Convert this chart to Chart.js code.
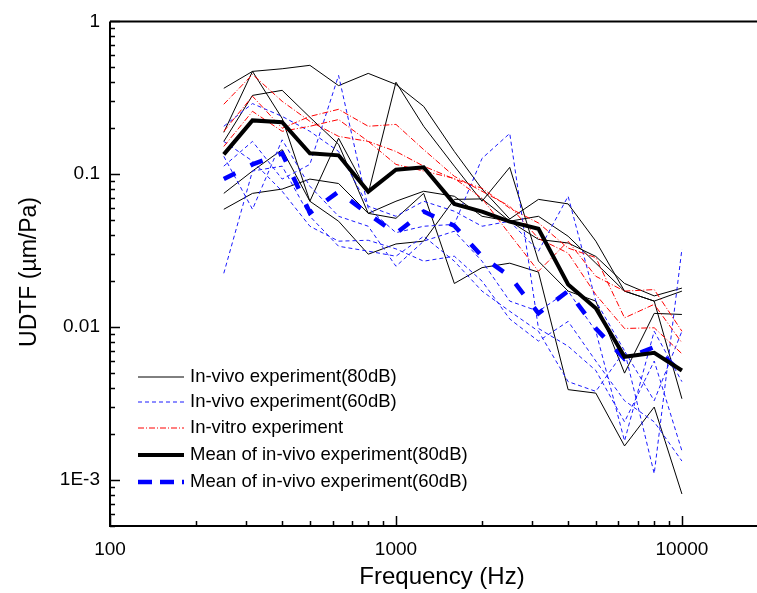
<!DOCTYPE html>
<html>
<head>
<meta charset="utf-8">
<script src="https://cdn.jsdelivr.net/npm/chart.js@4.4.1/dist/chart.umd.min.js"></script>
<style>
html, body { margin: 0; padding: 0; background: #fff; overflow: hidden; }
#wrap { width: 757px; height: 593px; overflow: hidden; }
</style>
</head>
<body>
<div id="wrap"><canvas id="c" width="790" height="593"></canvas></div>
<script>
// third-octave centre frequencies (Hz)
var freqs = [250, 315, 400, 500, 630, 800, 1000, 1250, 1600, 2000, 2500, 3150, 4000, 5000, 6300, 8000, 10000];

// in-vivo 80 dB, individual ears
var vivo80_1 = [0.365, 0.471, 0.49, 0.516, 0.38, 0.457, 0.387, 0.278, 0.141, 0.08, 0.051, 0.0685, 0.064, 0.0365, 0.0172, 0.0148, 0.0034];
var vivo80_2 = [0.188, 0.471, 0.232, 0.0666, 0.0493, 0.030, 0.035, 0.0365, 0.0685, 0.069, 0.0493, 0.0375, 0.0355, 0.029, 0.0193, 0.016, 0.018];
var vivo80_3 = [0.164, 0.328, 0.354, 0.236, 0.157, 0.0555, 0.0515, 0.075, 0.0193, 0.0245, 0.0262, 0.0229, 0.0039, 0.0037, 0.00167, 0.0030, 0.00081];
var vivo80_4 = [0.075, 0.105, 0.145, 0.0666, 0.172, 0.075, 0.40, 0.206, 0.113, 0.0666, 0.111, 0.027, 0.0172, 0.0148, 0.005, 0.0123, 0.0121];
var vivo80_5 = [0.059, 0.075, 0.080, 0.093, 0.087, 0.0555, 0.0666, 0.0774, 0.0718, 0.0531, 0.0493, 0.0531, 0.0393, 0.0262, 0.0172, 0.0148, 0.0172];

// in-vivo 60 dB, individual ears
var vivo60_1 = [0.113, 0.164, 0.093, 0.116, 0.443, 0.06, 0.0415, 0.0457, 0.047, 0.127, 0.185, 0.0098, 0.0075, 0.0052, 0.0024, 0.006, 0.00155];
var vivo60_2 = [0.206, 0.29, 0.239, 0.191, 0.141, 0.0618, 0.0531, 0.0666, 0.0573, 0.0457, 0.0493, 0.0314, 0.0718, 0.0148, 0.007, 0.0011, 0.0324];
var vivo60_3 = [0.131, 0.059, 0.168, 0.0835, 0.0531, 0.0457, 0.025, 0.0365, 0.0424, 0.027, 0.0148, 0.0127, 0.0172, 0.0094, 0.0018, 0.0094, 0.0044];
var vivo60_4 = [0.0225, 0.105, 0.113, 0.0531, 0.0338, 0.0314, 0.0291, 0.0393, 0.027, 0.0172, 0.0127, 0.0094, 0.0044, 0.0038, 0.007, 0.0033, 0.0094];
var vivo60_5 = [0.164, 0.122, 0.0774, 0.0457, 0.0365, 0.037, 0.0325, 0.027, 0.0291, 0.02, 0.0113, 0.0081, 0.0109, 0.006, 0.0033, 0.0024, 0.00133];

// in-vitro (temporal bones)
var vitro_1 = [0.287, 0.45, 0.30, 0.222, 0.177, 0.164, 0.141, 0.113, 0.093, 0.081, 0.060, 0.048, 0.0329, 0.0285, 0.0115, 0.0141, 0.0079];
var vitro_2 = [0.191, 0.324, 0.20, 0.239, 0.266, 0.206, 0.212, 0.145, 0.097, 0.0774, 0.0618, 0.038, 0.0305, 0.0163, 0.0098, 0.0099, 0.0067];
var vitro_3 = [0.152, 0.258, 0.191, 0.206, 0.228, 0.164, 0.116, 0.105, 0.094, 0.0695, 0.0405, 0.0232, 0.0365, 0.0215, 0.0172, 0.0176, 0.0094];

// means
var mean80 = [0.135, 0.225, 0.219, 0.137, 0.133, 0.077, 0.107, 0.111, 0.064, 0.057, 0.049, 0.044, 0.019, 0.0133, 0.0064, 0.0068, 0.0052];
var mean60 = [0.093, 0.116, 0.137, 0.056, 0.077, 0.055, 0.041, 0.057, 0.046, 0.029, 0.0215, 0.0123, 0.0172, 0.0098, 0.0062, 0.0074, 0.0050];

var legendLabels = ['In-vivo experiment(80dB)', 'In-vivo experiment(60dB)', 'In-vitro experiment',
                    'Mean of in-vivo experiment(80dB)', 'Mean of in-vivo experiment(60dB)'];

var xMajor = [100, 1000, 10000];
var xMinor = [200, 300, 400, 500, 600, 700, 800, 900, 2000, 3000, 4000, 5000, 6000, 7000, 8000, 9000];
var yMajor = [1, 0.1, 0.01, 0.001];
var yMajorLabels = ['1', '0.1', '0.01', '1E-3'];
var yMinor = [0.0005, 0.0006, 0.0007, 0.0008, 0.0009,
              0.002, 0.003, 0.004, 0.005, 0.006, 0.007, 0.008, 0.009,
              0.02, 0.03, 0.04, 0.05, 0.06, 0.07, 0.08, 0.09,
              0.2, 0.3, 0.4, 0.5, 0.6, 0.7, 0.8, 0.9];

var FONT = '"Liberation Sans", Arial, Helvetica, sans-serif';

function pts(arr) {
    return arr.map(function(v, i) { return { x: freqs[i], y: v }; });
}

var styles = {
    vivo80: { borderColor: '#000000', borderWidth: 1, borderDash: [] },
    vivo60: { borderColor: '#1a1aff', borderWidth: 1, borderDash: [4, 3] },
    vitro:  { borderColor: '#ff0000', borderWidth: 1, borderDash: [6, 2, 1, 2] },
    mean80: { borderColor: '#000000', borderWidth: 4, borderDash: [] },
    mean60: { borderColor: '#0000ff', borderWidth: 4.5, borderDash: [13, 17] }
};

function ds(arr, key, order) {
    var s = styles[key];
    return {
        data: pts(arr),
        borderColor: s.borderColor,
        borderWidth: s.borderWidth,
        borderDash: s.borderDash,
        pointRadius: 0,
        tension: 0,
        fill: false,
        order: order
    };
}

var datasets = [
    ds(mean80, 'mean80', 0),
    ds(mean60, 'mean60', 1),
    ds(vitro_1, 'vitro', 2), ds(vitro_2, 'vitro', 2), ds(vitro_3, 'vitro', 2),
    ds(vivo60_1, 'vivo60', 3), ds(vivo60_2, 'vivo60', 3), ds(vivo60_3, 'vivo60', 3),
    ds(vivo60_4, 'vivo60', 3), ds(vivo60_5, 'vivo60', 3),
    ds(vivo80_1, 'vivo80', 4), ds(vivo80_2, 'vivo80', 4), ds(vivo80_3, 'vivo80', 4),
    ds(vivo80_4, 'vivo80', 4), ds(vivo80_5, 'vivo80', 4)
];

// frame, inward ticks, axis titles and the in-plot legend
var decorPlugin = {
    id: 'decor',
    afterDraw: function(chart) {
        var ctx = chart.ctx;
        var a = chart.chartArea;
        var xs = chart.scales.x, ys = chart.scales.y;
        ctx.save();
        ctx.strokeStyle = '#000';
        ctx.lineWidth = 2;
        ctx.setLineDash([]);
        ctx.beginPath();
        ctx.moveTo(a.left, a.top);
        ctx.lineTo(a.right, a.top);
        ctx.moveTo(a.left, a.top);
        ctx.lineTo(a.left, a.bottom);
        ctx.lineTo(a.right, a.bottom);
        ctx.stroke();

        ctx.lineWidth = 1.5;
        ctx.beginPath();
        xMajor.forEach(function(v) {
            var x = Math.round(xs.getPixelForValue(v)) + 0.5;
            ctx.moveTo(x, a.bottom); ctx.lineTo(x, a.bottom - 10);
        });
        xMinor.forEach(function(v) {
            var x = Math.round(xs.getPixelForValue(v)) + 0.5;
            ctx.moveTo(x, a.bottom); ctx.lineTo(x, a.bottom - 5);
        });
        yMajor.forEach(function(v) {
            var y = Math.round(ys.getPixelForValue(v)) + 0.5;
            ctx.moveTo(a.left, y); ctx.lineTo(a.left + 10, y);
        });
        yMinor.forEach(function(v) {
            var y = Math.round(ys.getPixelForValue(v)) + 0.5;
            ctx.moveTo(a.left, y); ctx.lineTo(a.left + 5, y);
        });
        ctx.stroke();

        // axis titles
        ctx.fillStyle = '#000';
        ctx.textAlign = 'center';
        ctx.textBaseline = 'middle';
        ctx.font = '24px ' + FONT;
        ctx.fillText('Frequency (Hz)', 442, 577);
        ctx.save();
        ctx.translate(30, 272);
        ctx.rotate(-Math.PI / 2);
        ctx.font = '23px ' + FONT;
        ctx.fillText('UDTF (\u00B5m/Pa)', 0, 0);
        ctx.restore();

        // legend
        var keys = ['vivo80', 'vivo60', 'vitro', 'mean80', 'mean60'];
        var rowY = [377, 402, 428, 455, 482];
        ctx.textAlign = 'left';
        ctx.font = '18.5px ' + FONT;
        keys.forEach(function(k, i) {
            var s = styles[k];
            ctx.save();
            ctx.strokeStyle = s.borderColor;
            ctx.lineWidth = s.borderWidth;
            ctx.setLineDash(k === 'mean60' ? [14, 8] : s.borderDash);
            ctx.beginPath();
            ctx.moveTo(138, rowY[i]);
            ctx.lineTo(184, rowY[i]);
            ctx.stroke();
            ctx.restore();
            ctx.fillText(legendLabels[i], 190, rowY[i]);
        });
        ctx.restore();
    }
};

var chart = new Chart(document.getElementById('c').getContext('2d'), {
    type: 'line',
    data: { datasets: datasets },
    options: {
        responsive: false,
        animation: false,
        layout: { padding: { top: 20, right: 22, left: 0, bottom: 0 } },
        plugins: { legend: { display: false }, tooltip: { enabled: false } },
        scales: {
            x: {
                type: 'logarithmic',
                min: 100,
                max: 20000,
                afterFit: function(s) { s.height = 67; },
                afterBuildTicks: function(s) { s.ticks = xMajor.map(function(v) { return { value: v }; }); },
                ticks: {
                    autoSkip: false, maxRotation: 0, color: '#000', padding: 12,
                    font: { family: FONT, size: 19 },
                    callback: function(v) { return String(v); }
                },
                grid: { display: false, drawTicks: false },
                border: { display: false }
            },
            y: {
                type: 'logarithmic',
                min: 0.0005,
                max: 1,
                afterFit: function(s) { s.width = 110; },
                afterBuildTicks: function(s) { s.ticks = yMajor.map(function(v) { return { value: v }; }); },
                ticks: {
                    autoSkip: false, color: '#000', padding: 10,
                    font: { family: FONT, size: 19 },
                    callback: function(v) {
                        var i = yMajor.indexOf(v);
                        return i >= 0 ? yMajorLabels[i] : '';
                    }
                },
                grid: { display: false, drawTicks: false },
                border: { display: false }
            }
        }
    },
    plugins: [decorPlugin]
});
</script>
</body>
</html>
